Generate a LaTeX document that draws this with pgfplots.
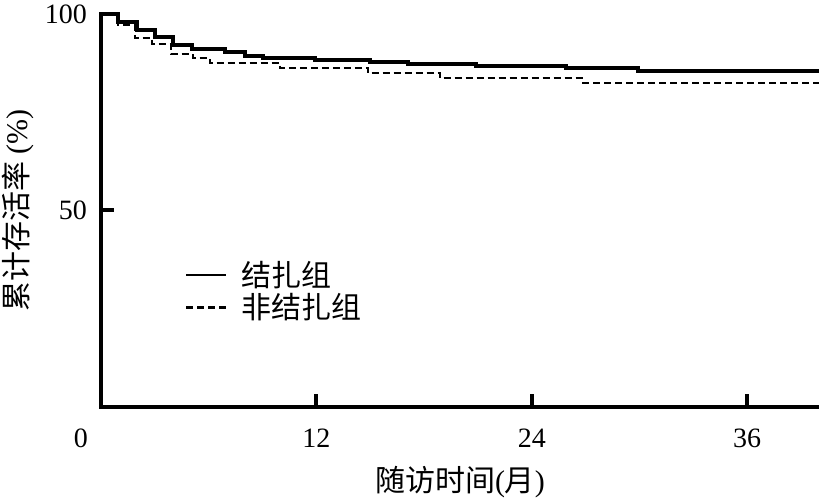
\documentclass[border=0pt]{standalone}
\usepackage{fontspec}
\setmainfont{Liberation Serif}
\newfontfamily\cjk{Noto Sans CJK SC}
\usepackage{pgfplots}
\pgfplotsset{compat=1.18}

\begin{document}
\begin{tikzpicture}
\begin{axis}[
  scale only axis, width=359pt, height=196.35pt,
  xmin=0, xmax=40, ymin=0, ymax=100,
  axis lines=left, clip=false,
  axis line style={-, line width=2pt, line cap=rect},
  tick align=inside, major tick length=6.5pt,
  tick style={line width=2pt, black},
  xtick={0,12,24,36}, ytick={50,100},
  xticklabels={\llap{0\hspace{6.5pt}},12,24,36},
  /pgf/number format/assume math mode=true,
  ticklabel style={font=\fontsize{14}{16}\selectfont},
  xticklabel style={yshift=-7.5pt},
  yticklabel style={xshift=-3.5pt},
  xlabel={{\cjk 随访时间}({\cjk 月})},
  ylabel={{\cjk 累计存活率} (\%)},
  every axis x label/.style={at={(axis description cs:0.5,-0.191)}, anchor=center,
    font=\fontsize{15}{17}\selectfont},
  every axis y label/.style={at={(axis description cs:-0.1156,0.5)}, anchor=center, rotate=90,
    font=\fontsize{15}{17}\selectfont},
  legend style={at={(axis cs:4.67,37.7)}, anchor=north west, draw=none, fill=none,
    inner sep=0pt, font=\fontsize{15}{17}\selectfont\cjk,
    nodes={inner sep=1pt}, row sep=0pt,
    /tikz/every odd column/.append style={column sep=6pt}},
  legend cell align=left,
  legend image code/.code={\draw[#1, line width=1.2pt] (0pt,0pt) -- (20pt,0pt);},
]
\addplot[const plot, black, line width=2pt, mark=none] coordinates {
  (0,100) (0.95,98.0) (2.0,95.9) (3.0,94.1) (4.0,92.0) (5.05,91.0) (6.9,90.2)
  (8.0,89.2) (9.0,88.8) (11.9,88.4) (15.0,87.9) (17.1,87.3) (20.9,86.8)
  (25.9,86.2) (29.9,85.6) (40,85.6)};
\addlegendentry{结扎组}
\addplot[const plot, black, line width=1pt, dash pattern=on 3.5pt off 2pt, mark=none] coordinates {
  (0,100) (0.95,97.2) (1.9,93.8) (2.85,92.3) (3.9,89.7) (5.1,88.7) (6.05,87.4)
  (10.0,86.2) (14.9,84.9) (18.9,83.6) (26.8,82.5) (40,82.5)};
\addlegendentry{非结扎组}
\coordinate (ll) at (axis cs:0,0);
\coordinate (ur) at (axis cs:40,100);
\end{axis}
\pgfresetboundingbox
\path ([shift={(-50.5pt,-45.65pt)}]ll) rectangle ([shift={(0pt,7pt)}]ur);
\end{tikzpicture}
\end{document}
